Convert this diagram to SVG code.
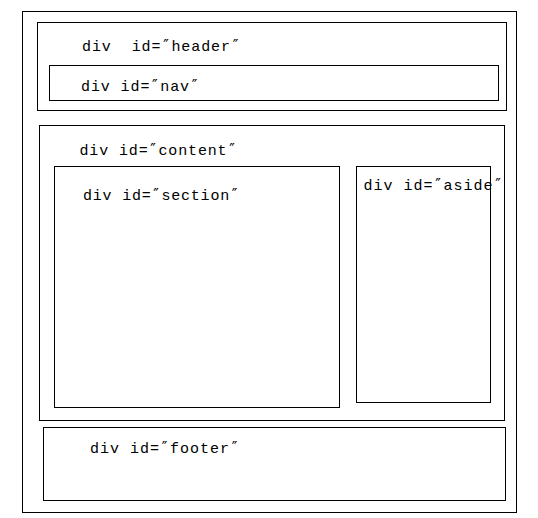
<svg xmlns="http://www.w3.org/2000/svg" width="538" height="518" viewBox="0 0 538 518">
<style>
rect{fill:none;stroke:#000;stroke-width:1}
text{font-family:"Liberation Mono","DejaVu Sans Mono",monospace;font-size:15px;fill:#000;white-space:pre}
.q{font-family:"DejaVu Sans Mono",monospace}
</style>
<rect x="0" y="0" width="538" height="518" style="fill:#fff;stroke:none"/>
<g id="page"><rect x="22.5" y="11.5" width="494" height="501"/></g>
<g id="header"><rect x="37.5" y="22.5" width="469" height="88"/><text x="82" y="51" textLength="158" lengthAdjust="spacing">div  id=<tspan class="q">″</tspan>header<tspan class="q">″</tspan></text></g>
<g id="nav"><rect x="49.5" y="65.5" width="449" height="35"/><text x="81" y="91" textLength="118" lengthAdjust="spacing">div id=<tspan class="q">″</tspan>nav<tspan class="q">″</tspan></text></g>
<g id="content"><rect x="39.5" y="125.5" width="465" height="295"/><text x="79.5" y="155" textLength="157" lengthAdjust="spacing">div id=<tspan class="q">″</tspan>content<tspan class="q">″</tspan></text></g>
<g id="section"><rect x="54.5" y="166.5" width="285" height="241"/><text x="83" y="199.5" textLength="156" lengthAdjust="spacing">div id=<tspan class="q">″</tspan>section<tspan class="q">″</tspan></text></g>
<g id="aside"><rect x="356.5" y="166.5" width="134" height="236"/><text x="363.5" y="190" textLength="139" lengthAdjust="spacing">div id=<tspan class="q">″</tspan>aside<tspan class="q">″</tspan></text></g>
<g id="footer"><rect x="43.5" y="427.5" width="462" height="73"/><text x="90" y="452.5" textLength="149" lengthAdjust="spacing">div id=<tspan class="q">″</tspan>footer<tspan class="q">″</tspan></text></g>
<g id="connectors"/>
</svg>
